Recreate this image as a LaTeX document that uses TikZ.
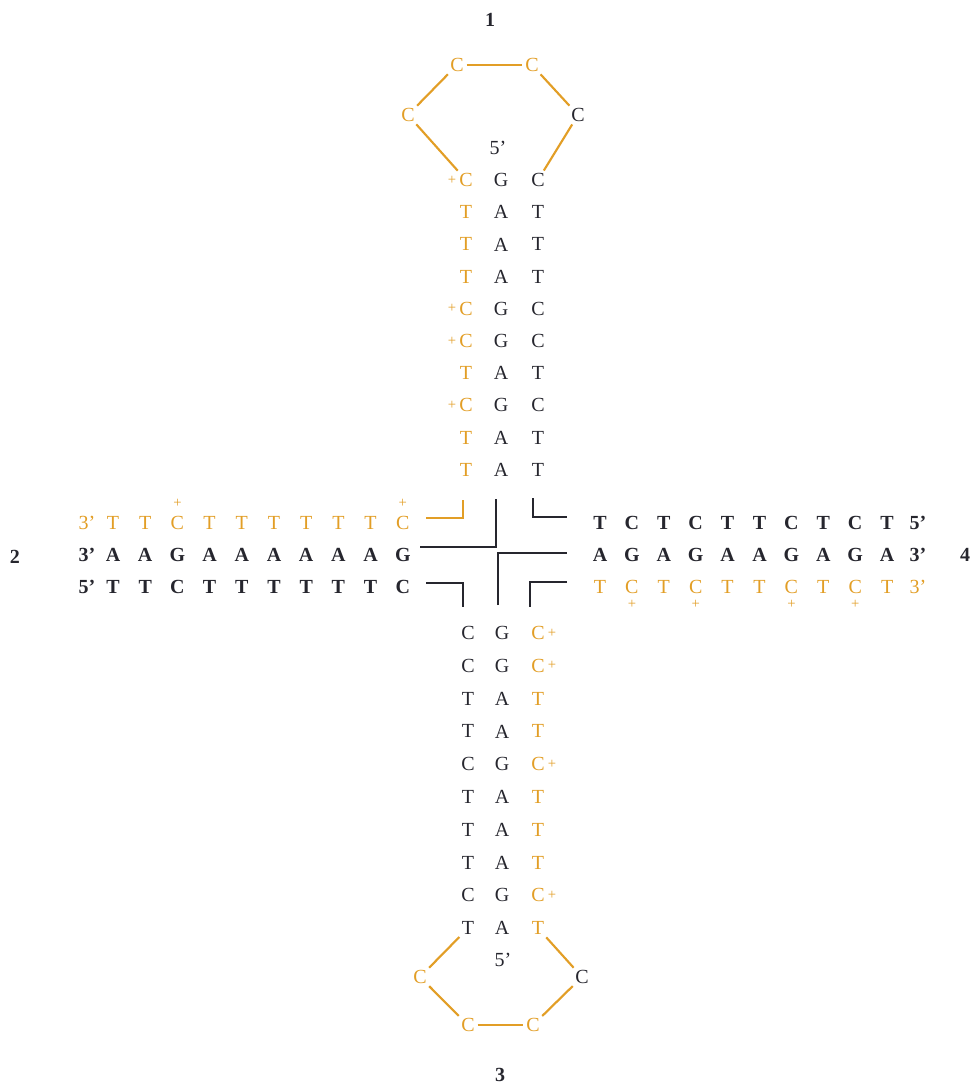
\documentclass[tikz,border=0pt]{standalone}
\usepackage{fontspec}
\setmainfont{Liberation Serif}
\definecolor{dnaorange}{RGB}{226,158,38}
\definecolor{dnaink}{RGB}{38,38,46}

\begin{document}
\begin{tikzpicture}[
    x=0.75pt, y=-0.75pt,
    font=\fontsize{15}{17}\selectfont,
    base/.style   ={inner sep=1pt, text=dnaink},
    basebf/.style ={base, font=\fontsize{15}{17}\selectfont\bfseries},
    obase/.style  ={base, text=dnaorange},
    plus/.style   ={inner sep=0pt, text=dnaorange, font=\fontsize{11}{11}\selectfont},
    armno/.style  ={inner sep=0pt, text=dnaink, font=\fontsize{15}{15}\selectfont\bfseries},
    loopln/.style ={draw=dnaorange, line width=1.6pt, shorten <=1pt, shorten >=1pt},
    strand/.style ={draw=dnaink, line width=1.8pt},
    ostrand/.style={draw=dnaorange, line width=1.8pt},
]
\useasboundingbox (0,0) rectangle (973,1086);

% ------------------------------------------------------------
% arm numbers
% ------------------------------------------------------------
\node[armno] (n1) at (490,20)   {1};
\node[armno] (n2) at (15,557)   {2};
\node[armno] (n3) at (500,1075) {3};
\node[armno] (n4) at (965,555)  {4};

% ------------------------------------------------------------
% arm 1 -- top stem
% ------------------------------------------------------------
\node[base] (t5) at (498,148) {5’};
\foreach \l/\m/\r [count=\i] in {C/G/C, T/A/T, T/A/T, T/A/T, C/G/C,
                                  C/G/C, T/A/T, C/G/C, T/A/T, T/A/T} {
  \pgfmathsetmacro{\yy}{180+32.2*(\i-1)}
  \node[obase] (tl\i) at (466,\yy) {\l};
  \node[base]  (tm\i) at (501,\yy) {\m};
  \node[base]  (tr\i) at (538,\yy) {\r};
  \if\l C\node[plus] (tp\i) at (452,\yy) {+};\fi
}

% top loop
\node[obase] (la) at (457,65)  {C};
\node[obase] (lb) at (532,65)  {C};
\node[obase] (lc) at (408,115) {C};
\node[base]  (ld) at (578,115) {C};
\draw[loopln] (tl1) -- (lc);
\draw[loopln] (lc)  -- (la);
\draw[loopln] (la)  -- (lb);
\draw[loopln] (lb)  -- (ld);
\draw[loopln] (ld)  -- (tr1);

% ------------------------------------------------------------
% arm 2 -- left
% ------------------------------------------------------------
\node[obase]  (ao0) at (87,523) {3’};
\node[basebf] (am0) at (87,555) {3’};
\node[basebf] (au0) at (87,587) {5’};
\foreach \o/\m/\u [count=\j] in {T/A/T, T/A/T, C/G/C, T/A/T, T/A/T,
                                  T/A/T, T/A/T, T/A/T, T/A/T, C/G/C} {
  \pgfmathsetmacro{\xx}{113+32.2*(\j-1)}
  \node[obase]  (ao\j) at (\xx,523) {\o};
  \node[basebf] (am\j) at (\xx,555) {\m};
  \node[basebf] (au\j) at (\xx,587) {\u};
  \if\o C\node[plus] (ap\j) at (\xx,503) {+};\fi
}

% ------------------------------------------------------------
% arm 4 -- right
% ------------------------------------------------------------
\foreach \u/\m/\o [count=\j] in {T/A/T, C/G/C, T/A/T, C/G/C, T/A/T,
                                  T/A/T, C/G/C, T/A/T, C/G/C, T/A/T} {
  \pgfmathsetmacro{\xx}{600+31.9*(\j-1)}
  \node[basebf] (cu\j) at (\xx,523) {\u};
  \node[basebf] (cm\j) at (\xx,555) {\m};
  \node[obase]  (co\j) at (\xx,587) {\o};
  \if\o C\node[plus] (cp\j) at (\xx,604) {+};\fi
}
\node[basebf] (cu0) at (918,523) {5’};
\node[basebf] (cm0) at (918,555) {3’};
\node[obase]  (co0) at (918,587) {3’};

% ------------------------------------------------------------
% arm 3 -- bottom stem
% ------------------------------------------------------------
\foreach \l/\m/\r [count=\i] in {C/G/C, C/G/C, T/A/T, T/A/T, C/G/C,
                                  T/A/T, T/A/T, T/A/T, C/G/C, T/A/T} {
  \pgfmathsetmacro{\yy}{633+32.8*(\i-1)}
  \node[base]  (bl\i) at (468,\yy) {\l};
  \node[base]  (bm\i) at (502,\yy) {\m};
  \node[obase] (br\i) at (538,\yy) {\r};
  \if\r C\node[plus] (bp\i) at (552,\yy) {+};\fi
}
\node[base] (b5) at (503,960) {5’};

% bottom loop
\node[obase] (ka) at (420,977)  {C};
\node[obase] (kb) at (468,1025) {C};
\node[obase] (kc) at (533,1025) {C};
\node[base]  (kd) at (582,977)  {C};
\draw[loopln] (bl10) -- (ka);
\draw[loopln] (ka)   -- (kb);
\draw[loopln] (kb)   -- (kc);
\draw[loopln] (kc)   -- (kd);
\draw[loopln] (br10) -- (kd);

% ------------------------------------------------------------
% junction
% ------------------------------------------------------------
\coordinate (ja1) at (426,518); \coordinate (ja2) at (463,500);
\coordinate (jb1) at (496,499); \coordinate (jb2) at (420,547);
\coordinate (jc1) at (533,498); \coordinate (jc2) at (567,517);
\coordinate (jd1) at (498,605); \coordinate (jd2) at (567,553);
\coordinate (je1) at (426,583); \coordinate (je2) at (463,607);
\coordinate (jf1) at (567,582); \coordinate (jf2) at (530,607);

\draw[ostrand] (ja1) -| (ja2);
\draw[strand]  (jb1) |- (jb2);
\draw[strand]  (jc1) |- (jc2);
\draw[strand]  (jd1) |- (jd2);
\draw[strand]  (je1) -| (je2);
\draw[strand]  (jf1) -| (jf2);

\end{tikzpicture}
\end{document}
